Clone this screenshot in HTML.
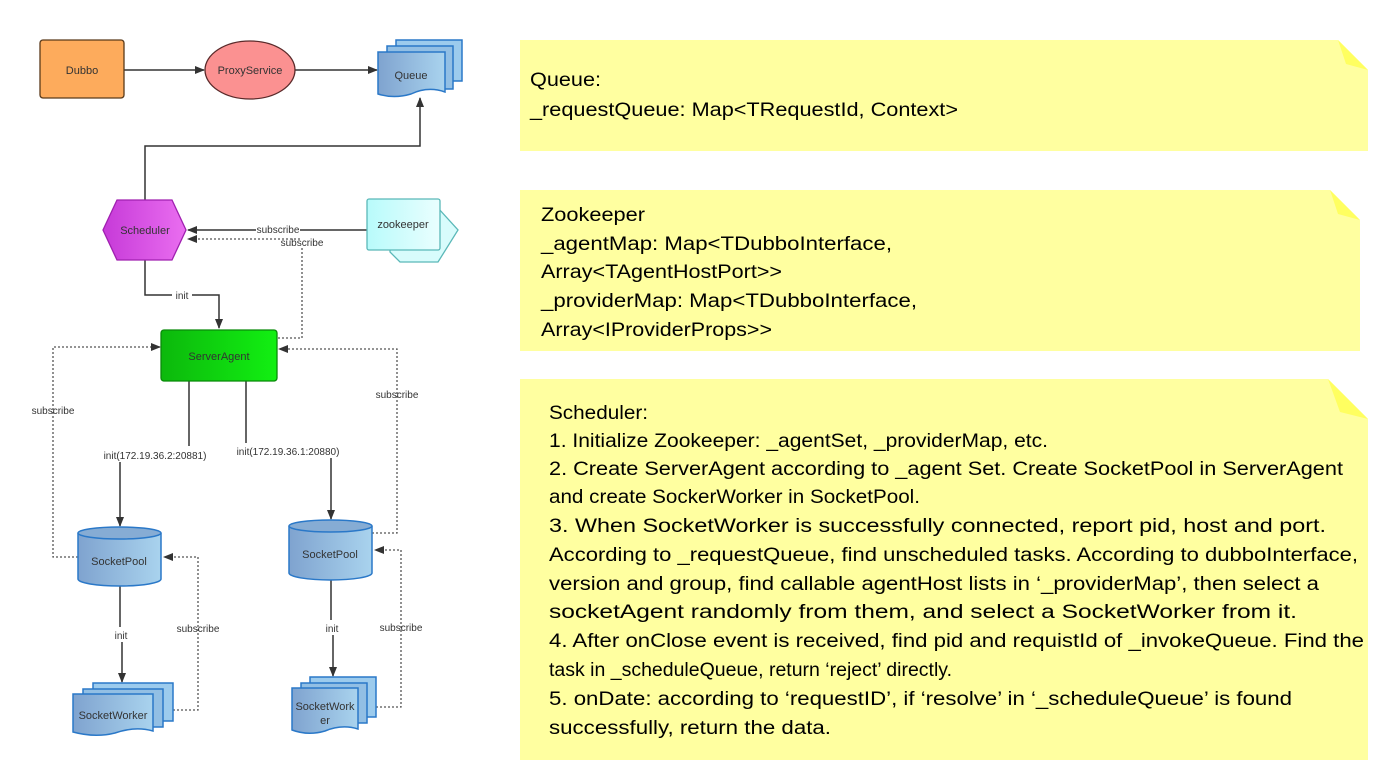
<!DOCTYPE html>
<html><head><meta charset="utf-8"><style>
html,body{margin:0;padding:0;background:#fff;width:1382px;height:763px;overflow:hidden}
svg{display:block}
.n{font-family:"Liberation Sans",sans-serif;font-size:11px;fill:#333;text-anchor:middle}
.l{font-family:"Liberation Sans",sans-serif;font-size:10px;fill:#333;text-anchor:middle}
.t{font-family:"Liberation Sans",sans-serif;font-size:19px;fill:#000}
</style></head><body>
<svg width="1382" height="763" xmlns="http://www.w3.org/2000/svg">
<defs>
<marker id="a" markerWidth="10" markerHeight="10" refX="9" refY="5" orient="auto" markerUnits="userSpaceOnUse"><path d="M0,1 L10,5 L0,9 z" fill="#333"/></marker>
<linearGradient id="bl" x1="0" x2="1"><stop offset="0" stop-color="#7fa3cf"/><stop offset="1" stop-color="#a9d3ee"/></linearGradient>
<linearGradient id="pu" x1="0" x2="1"><stop offset="0" stop-color="#c63ad8"/><stop offset="1" stop-color="#ea6ef0"/></linearGradient>
<linearGradient id="gr" x1="0" x2="1"><stop offset="0" stop-color="#0cb80c"/><stop offset="1" stop-color="#12f012"/></linearGradient>
<linearGradient id="cy" x1="0" x2="1"><stop offset="0" stop-color="#b8fbfb"/><stop offset="1" stop-color="#eafefe"/></linearGradient>
</defs>

<!-- notes -->
<path d="M520,40 H1338 L1368,70 V151 H520 z" fill="#ffffa0"/>
<path d="M1338,40 L1368,70 L1346,64 z" fill="#ffff60"/>
<path d="M520,190 H1330 L1360,220 V351 H520 z" fill="#ffffa0"/>
<path d="M1330,190 L1360,220 L1338,214 z" fill="#ffff60"/>
<path d="M520,379 H1328 L1368,419 V760 H520 z" fill="#ffffa0"/>
<path d="M1328,379 L1368,419 L1340,412 z" fill="#ffff60"/>

<text class="t" x="530" y="86" textLength="71" lengthAdjust="spacingAndGlyphs">Queue:</text>
<text class="t" x="530" y="116" textLength="428" lengthAdjust="spacingAndGlyphs">_requestQueue: Map&lt;TRequestId, Context&gt;</text>

<text class="t" x="541" y="221" textLength="104" lengthAdjust="spacingAndGlyphs">Zookeeper</text>
<text class="t" x="541" y="250" textLength="351" lengthAdjust="spacingAndGlyphs">_agentMap: Map&lt;TDubboInterface,</text>
<text class="t" x="541" y="278" textLength="241" lengthAdjust="spacingAndGlyphs">Array&lt;TAgentHostPort&gt;&gt;</text>
<text class="t" x="541" y="307" textLength="376" lengthAdjust="spacingAndGlyphs">_providerMap: Map&lt;TDubboInterface,</text>
<text class="t" x="541" y="336" textLength="231" lengthAdjust="spacingAndGlyphs">Array&lt;IProviderProps&gt;&gt;</text>

<text class="t" x="549" y="419" textLength="99" lengthAdjust="spacingAndGlyphs">Scheduler:</text>
<text class="t" x="549" y="447" textLength="499" lengthAdjust="spacingAndGlyphs">1.  Initialize Zookeeper: _agentSet, _providerMap, etc.</text>
<text class="t" x="549" y="475" textLength="794" lengthAdjust="spacingAndGlyphs">2.  Create ServerAgent according to _agent Set. Create SocketPool in ServerAgent</text>
<text class="t" x="549" y="503" textLength="371" lengthAdjust="spacingAndGlyphs">and create SockerWorker in SocketPool.</text>
<text class="t" x="549" y="532" textLength="777" lengthAdjust="spacingAndGlyphs">3.  When SocketWorker is successfully connected, report pid, host and port.</text>
<text class="t" x="549" y="561" textLength="809" lengthAdjust="spacingAndGlyphs">According to _requestQueue, find unscheduled tasks. According to dubboInterface,</text>
<text class="t" x="549" y="590" textLength="770" lengthAdjust="spacingAndGlyphs">version and group, find callable agentHost lists in ‘_providerMap’, then select a</text>
<text class="t" x="549" y="618" textLength="748" lengthAdjust="spacingAndGlyphs">socketAgent randomly from them, and select a SocketWorker from it.</text>
<text class="t" x="549" y="647" textLength="815" lengthAdjust="spacingAndGlyphs">4.  After onClose event is received, find pid and requistId of _invokeQueue. Find the</text>
<text class="t" x="549" y="676" textLength="403" lengthAdjust="spacingAndGlyphs">task in _scheduleQueue, return ‘reject’ directly.</text>
<text class="t" x="549" y="705" textLength="743" lengthAdjust="spacingAndGlyphs">5.  onDate: according to ‘requestID’, if ‘resolve’ in ‘_scheduleQueue’ is found</text>
<text class="t" x="549" y="734" textLength="282" lengthAdjust="spacingAndGlyphs">successfully, return the data.</text>

<!-- connectors -->
<g stroke="#333" stroke-width="1.5" fill="none">
<line x1="124" y1="70" x2="204" y2="70" marker-end="url(#a)"/>
<line x1="295" y1="70" x2="377" y2="70" marker-end="url(#a)"/>
<polyline points="145,200 145,146 420,146 420,98" marker-end="url(#a)"/>
<line x1="367" y1="230" x2="188" y2="230" marker-end="url(#a)"/>
<polyline points="145,260 145,295 219,295 219,328" marker-end="url(#a)"/>
<line x1="189" y1="381" x2="189" y2="446"/>
<line x1="120" y1="462" x2="120" y2="526" marker-end="url(#a)"/>
<line x1="246" y1="381" x2="246" y2="443"/>
<line x1="331" y1="458" x2="331" y2="519" marker-end="url(#a)"/>
<line x1="120" y1="585" x2="120" y2="627"/>
<line x1="122" y1="642" x2="122" y2="682" marker-end="url(#a)"/>
<line x1="331" y1="580" x2="331" y2="620"/>
<line x1="333" y1="635" x2="333" y2="676" marker-end="url(#a)"/>
</g>
<g stroke="#555" stroke-width="1.3" fill="none" stroke-dasharray="2,2">
<polyline points="300,239 188,239" marker-end="url(#a)"/>
<polyline points="278,338 302,338 302,248"/>
<polyline points="78,557 53,557 53,347 160,347" marker-end="url(#a)"/>
<polyline points="372,533 397,533 397,349 279,349" marker-end="url(#a)"/>
<polyline points="173,710 198,710 198,557 164,557" marker-end="url(#a)"/>
<polyline points="376,707 401,707 401,550 375,550" marker-end="url(#a)"/>
</g>

<!-- labels -->
<g>
<rect x="256" y="224" width="44" height="11" fill="#fff"/>
<text class="l" x="278" y="233">subscribe</text>
<text class="l" x="302" y="246">subscribe</text>
<rect x="172" y="290" width="20" height="11" fill="#fff"/>
<text class="l" x="182" y="299">init</text>
<text class="l" x="53" y="414">subscribe</text>
<text class="l" x="397" y="398">subscribe</text>
<text class="l" x="155" y="459">init(172.19.36.2:20881)</text>
<text class="l" x="288" y="455">init(172.19.36.1:20880)</text>
<text class="l" x="121" y="639">init</text>
<text class="l" x="332" y="632">init</text>
<text class="l" x="198" y="632">subscribe</text>
<text class="l" x="401" y="631">subscribe</text>
</g>

<!-- nodes -->
<rect x="40" y="40" width="84" height="58" rx="3" fill="#fdab5c" stroke="#5a3a1a" stroke-width="1.3"/>
<text class="n" x="82" y="74">Dubbo</text>
<ellipse cx="250" cy="70" rx="45" ry="29" fill="#fb9191" stroke="#5a2a2a" stroke-width="1.3"/>
<text class="n" x="250" y="74">ProxyService</text>

<g stroke="#2a78c8" stroke-width="1.5">
<rect x="396" y="40" width="66" height="41" fill="#9ccbed"/>
<rect x="387" y="46" width="66" height="43" fill="#92bfe4"/>
<path d="M378,52 H445 V92 Q428,86 411,94 Q394,99 378,94 z" fill="url(#bl)"/>
</g>
<text class="n" x="411" y="79">Queue</text>

<path d="M103,230 L117,200 H172 L186,230 L172,260 H117 z" fill="url(#pu)" stroke="#a020b0" stroke-width="1.3"/>
<text class="n" x="145" y="234">Scheduler</text>

<g stroke="#5ab8b8" stroke-width="1.3">
<path d="M390,208 H438 L458,230 L438,262 H400 L390,252 z" fill="#d8fcfc"/>
<rect x="367" y="199" width="73" height="51" rx="2" fill="url(#cy)"/>
</g>
<text class="n" x="403" y="228">zookeeper</text>

<rect x="161" y="330" width="116" height="51" rx="3" fill="url(#gr)" stroke="#0a8a0a" stroke-width="1.3"/>
<text class="n" x="219" y="360">ServerAgent</text>

<g stroke="#2a78c8" stroke-width="1.5">
<path d="M78,533 V579 A41.5,7 0 0 0 161,579 V533" fill="url(#bl)"/>
<ellipse cx="119.5" cy="533" rx="41.5" ry="6" fill="#86acd4"/>
<path d="M289,526 V573 A41.5,7 0 0 0 372,573 V526" fill="url(#bl)"/>
<ellipse cx="330.5" cy="526" rx="41.5" ry="6" fill="#86acd4"/>
</g>
<text class="n" x="119" y="565">SocketPool</text>
<text class="n" x="330" y="558">SocketPool</text>

<g stroke="#2a78c8" stroke-width="1.5">
<rect x="93" y="683" width="80" height="38" fill="#9ccbed"/>
<rect x="83" y="689" width="80" height="38" fill="#92bfe4"/>
<path d="M73,694 H153 V731 Q135,726 115,733 Q95,738 73,732 z" fill="url(#bl)"/>
<rect x="310" y="677" width="66" height="40" fill="#9ccbed"/>
<rect x="301" y="683" width="66" height="40" fill="#92bfe4"/>
<path d="M292,688 H358 V729 Q342,724 325,731 Q308,736 292,730 z" fill="url(#bl)"/>
</g>
<text class="n" x="113" y="719">SocketWorker</text>
<text class="n" x="325" y="710">SocketWork</text>
<text class="n" x="325" y="724">er</text>
</svg>
</body></html>
